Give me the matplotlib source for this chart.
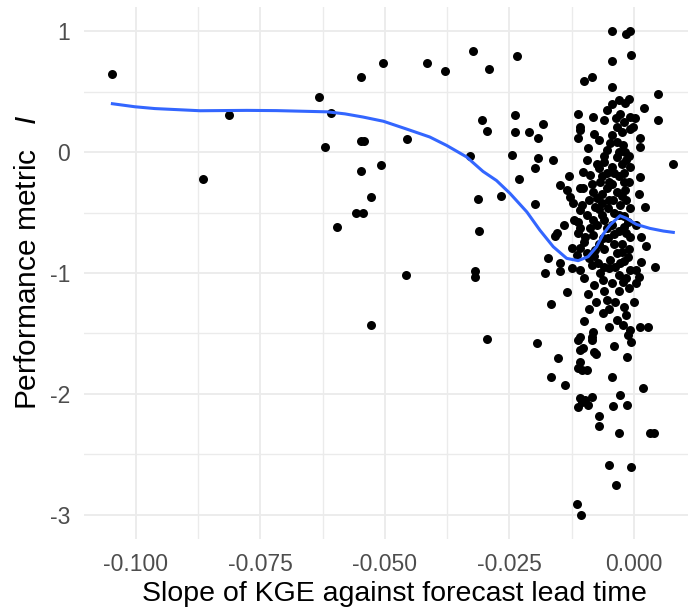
import numpy as np
import matplotlib
matplotlib.use("Agg")
import matplotlib.pyplot as plt
from matplotlib.ticker import MultipleLocator

plt.rcParams['font.family'] = ['Liberation Sans', 'DejaVu Sans']
plt.rcParams['mathtext.fontset'] = 'custom'
plt.rcParams['mathtext.it'] = 'Liberation Sans:italic'
plt.rcParams['mathtext.rm'] = 'Liberation Sans'

# scatter points: KGE slope vs performance metric I
sparse_x = [-0.1047, -0.0865, -0.0813, -0.0633, -0.0608, -0.0620, -0.0597, -0.0548,
            -0.0503, -0.0416, -0.0379, -0.0323, -0.0291, -0.0234, -0.0548, -0.0542,
            -0.0455, -0.0548, -0.0508, -0.0528, -0.0557, -0.0544, -0.0306, -0.0295,
            -0.0329, -0.0314, -0.0267, -0.0238, -0.0238, -0.0244, -0.0230, -0.0210,
            -0.0458, -0.0528, -0.0311, -0.0319, -0.0319, -0.0295, -0.0192, -0.0192,
            -0.0199, -0.0199, -0.0195]
sparse_y = [0.642, -0.221, 0.306, 0.457, 0.325, 0.044, -0.617, 0.622,
            0.738, 0.738, 0.672, 0.835, 0.688, 0.793, 0.093, 0.093,
            0.110, -0.155, -0.105, -0.369, -0.502, -0.502, 0.264, 0.176,
            -0.033, -0.388, -0.364, 0.308, 0.163, -0.025, -0.221, 0.163,
            -1.014, -1.430, -0.650, -0.983, -1.031, -1.543, 0.113, -0.052,
            -0.135, -0.430, -1.576]

dense_x = [-0.0045, -0.0015, -0.0008, -0.0005, -0.0045, -0.0100, -0.0085, -0.0045,
           0.0048, -0.0045, -0.0030, -0.0009, -0.0017, 0.0020, -0.0113, -0.0082,
           -0.0060, -0.0037, -0.0028, -0.0008, 0.0002, 0.0048, -0.0182, -0.0108,
           -0.0035, -0.0001,
           -0.0108, -0.0112, -0.0045, -0.0048, -0.0025, -0.0008, 0.0012, 0.0012,
           -0.0092, -0.0021, -0.0017, -0.0162, 0.0079, -0.0095, -0.0102, -0.0035,
           -0.0045, -0.0015, -0.0008, -0.0055, -0.0068, 0.0012, -0.0088, -0.0149,
           -0.0135, -0.0102, -0.0108, -0.0129, -0.0122, -0.0082, -0.0075, -0.0078,
           -0.0035, -0.0017, -0.0015, -0.0028, -0.0008, -0.0055, -0.0042, -0.0052,
           0.0022, -0.0105, -0.0108, -0.0112, -0.0108, -0.0082, -0.0075, -0.0088,
           -0.0055, -0.0045, -0.0011, 0.0005, -0.0155,
           -0.0159, -0.0112, -0.0098, -0.0082, -0.0062, -0.0052, -0.0015, -0.0008,
           0.0015, -0.0125, -0.0108, -0.0095, -0.0078, -0.0172, -0.0149, -0.0179,
           -0.0149, -0.0125, -0.0108, -0.0085, -0.0072, -0.0068, -0.0062, -0.0045,
           -0.0048, -0.0035, -0.0025, -0.0011, -0.0028, -0.0008, 0.0005, 0.0015,
           -0.0015, 0.0005, -0.0021, 0.0042, -0.0038, -0.0134, -0.0167, -0.0093,
           -0.0076, -0.0055, -0.0038, -0.0062, -0.0035, -0.0015, 0.0000, -0.0021,
           -0.0008, 0.0012, 0.0029, -0.0082, -0.0085, -0.0108,
           -0.0112, -0.0085, -0.0108, -0.0102, -0.0005, -0.0011, -0.0153, -0.0076,
           -0.0013, -0.0108, -0.0105, -0.0095, -0.0112, -0.0167, -0.0139, -0.0045,
           0.0019, -0.0028, -0.0108, -0.0098, -0.0085, -0.0112, -0.0092, -0.0105,
           -0.0042, -0.0013, -0.0070, -0.0070, -0.0030, 0.0032, 0.0040,
           -0.0050, -0.0005, -0.0037, -0.0114, -0.0106,
           -0.0060, -0.0050, -0.0030, -0.0020, -0.0040, -0.0020, -0.0065, -0.0030,
           -0.0065, -0.0010, -0.0070, -0.0025, -0.0040, -0.0060, -0.0090, -0.0060,
           -0.0030, -0.0010,
           -0.0070, -0.0055, -0.0035, -0.0060, -0.0075, -0.0040, -0.0020, -0.0065,
           -0.0085, -0.0045, -0.0025, -0.0065, -0.0090, -0.0050, -0.0030, -0.0070,
           -0.0095, -0.0120, -0.0060, -0.0020, -0.0040, -0.0100, -0.0070, -0.0025,
           -0.0115, -0.0080, -0.0050, -0.0020, -0.0100, -0.0080, -0.0030, 0.0010,
           -0.0060, -0.0090, -0.0050, -0.0020, -0.0100, -0.0050, -0.0080, -0.0040,
           -0.0010, -0.0030, -0.0080, -0.0020, -0.0055, 0.0010, -0.0130, -0.0140,
           0.0025, -0.0010]
dense_y = [1.002, 0.975, 1.002, 0.807, 0.755, 0.589, 0.622, 0.540,
           0.477, 0.394, 0.430, 0.436, 0.402, 0.361, 0.312, 0.292,
           0.264, 0.279, 0.312, 0.292, 0.279, 0.264, 0.231, 0.204,
           0.209, 0.209,
           0.182, 0.118, 0.140, 0.072, 0.168, 0.190, 0.113, 0.044,
           0.031, 0.058, 0.002, -0.066, -0.102, -0.066, -0.163, -0.039,
           -0.121, -0.066, -0.121, -0.176, -0.245, -0.204, -0.190, -0.273,
           -0.314, -0.300, -0.300, -0.369, -0.424, -0.328, -0.383, -0.452,
           -0.328, -0.314, -0.397, -0.438, -0.465, -0.300, -0.397, -0.465,
           -0.452, -0.438, -0.479, -0.576, -0.631, -0.562, -0.603, -0.631,
           -0.631, -0.603, -0.576, -0.603, -0.672,
           -0.694, -0.672, -0.700, -0.686, -0.713, -0.713, -0.672, -0.700,
           -0.700, -0.796, -0.796, -0.837, -0.810, -0.879, -0.920, -0.998,
           -0.981, -0.961, -0.975, -0.934, -0.920, -1.002, -1.058, -1.085,
           -0.893, -0.837, -0.824, -0.865, -0.920, -0.975, -0.975, -0.907,
           -1.044, -1.085, -1.072, -0.948, -0.948, -1.160, -1.256, -1.176,
           -1.237, -1.223, -1.237, -1.333, -1.388, -1.347, -1.237, -1.430,
           -1.471, -1.444, -1.444, -1.485, -1.526, -1.526,
           -1.554, -1.554, -1.636, -1.622, -1.568, -1.512, -1.705, -1.672,
           -1.692, -1.733, -1.802, -1.802, -1.788, -1.857, -1.926, -1.857,
           -1.953, -2.008, -2.036, -2.050, -2.022, -2.105, -2.091, -2.064,
           -2.099, -2.091, -2.179, -2.262, -2.320, -2.320, -2.320,
           -2.587, -2.601, -2.752, -2.909, -2.998,
           -0.080, -0.250, -0.200, -0.250, -0.500, -0.530, -0.520, -0.650,
           -0.420, -0.250, -0.130, -0.100, -0.760, -0.800, -0.880, -0.950,
           -1.150, -1.120,
           0.100, 0.020, 0.080, -0.030, -0.100, -0.170, -0.170, -0.200,
           -0.260, -0.260, -0.360, -0.350, -0.400, -0.400, -0.520, -0.470,
           -0.520, -0.560, -0.560, -0.620, -0.680, -0.740, -0.760, -0.760,
           -0.850, -0.860, -0.960, -0.900, -1.040, -1.100, -1.020, -1.030,
           -1.150, -1.300, -1.300, -1.280, -1.400, -1.450, -1.650, -1.600,
           -0.030, 0.000, 0.150, 0.250, 0.350, -0.350, -0.200, -0.600,
           -0.780, -0.800]

# smoothed trend (loess line)
smooth_x = [-0.1047, -0.1002, -0.0962, -0.0871, -0.0777, -0.0717, -0.0616, -0.0580,
            -0.0544, -0.0503, -0.0456, -0.0410, -0.0376, -0.0336, -0.0303, -0.0276,
            -0.0249, -0.0215, -0.0189, -0.0162, -0.0135, -0.0112, -0.0092, -0.0075,
            -0.0062, -0.0048, -0.0028, -0.0015, 0.0005, 0.0032, 0.0059, 0.0079]
smooth_y = [0.400, 0.375, 0.360, 0.342, 0.345, 0.343, 0.333, 0.316,
            0.290, 0.255, 0.190, 0.125, 0.055, -0.040, -0.160, -0.235,
            -0.341, -0.495, -0.645, -0.783, -0.879, -0.898, -0.865, -0.783,
            -0.680, -0.603, -0.526, -0.548, -0.598, -0.631, -0.653, -0.664]

x_ticks = [-0.100, -0.075, -0.050, -0.025, 0.000]
x_tick_labels = ['-0.100', '-0.075', '-0.050', '-0.025', '0.000']
y_ticks = [1, 0, -1, -2, -3]

W, H = 688, 615
fig = plt.figure(figsize=(W / 100, H / 100), dpi=100)
# panel runs past the right edge of the picture, like the cropped reference
left_px, right_px, top_px, bottom_px = 84, 704, 7, 539
ax = fig.add_axes([left_px / W, 1 - bottom_px / H,
                   (right_px - left_px) / W, (bottom_px - top_px) / H])

ax.set_xlim(-0.1104, 0.01406)
ax.set_ylim(-3.2, 1.2)

ax.xaxis.set_minor_locator(MultipleLocator(0.0125))
ax.yaxis.set_minor_locator(MultipleLocator(0.5))
ax.set_xticks(x_ticks)
ax.set_xticklabels(x_tick_labels)
ax.set_yticks(y_ticks)
ax.set_yticklabels([str(v) for v in y_ticks])

grid_col = '#EBEBEB'
ax.grid(which='major', color=grid_col, linewidth=1.3)
ax.grid(which='minor', color=grid_col, linewidth=1.0)
ax.set_axisbelow(True)
for s in ax.spines.values():
    s.set_visible(False)
ax.tick_params(which='both', length=0)
ax.tick_params(axis='x', labelsize=16.5, colors='#4D4D4D', pad=10)
ax.tick_params(axis='y', labelsize=16.5, colors='#4D4D4D', pad=10)

ax.scatter(sparse_x + dense_x, sparse_y + dense_y, s=42, color='black',
           linewidths=0, zorder=2)
ax.plot(smooth_x, smooth_y, color='#3366FF', linewidth=2.2, zorder=3)

ax.set_xlabel('Slope of KGE against forecast lead time', fontsize=20.5,
              color='black', labelpad=4)
ax.set_ylabel('Performance metric   $I$', fontsize=21.5, color='black')
ax.yaxis.set_label_coords(-0.068, 0.52)

fig.savefig('out.png', dpi=100)
